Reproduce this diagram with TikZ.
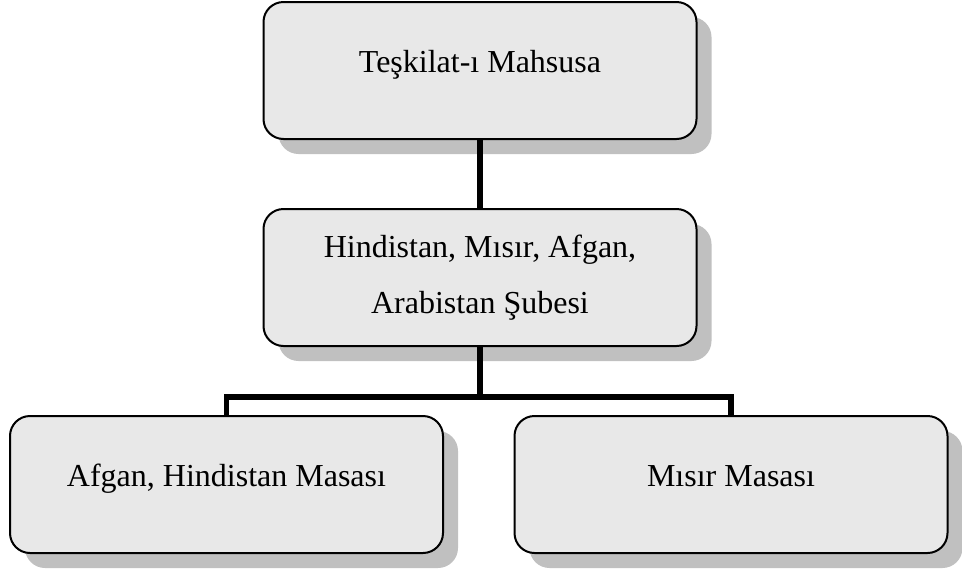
\documentclass[tikz,border=0pt]{standalone}
\usepackage{fontspec}
\setmainfont{Liberation Serif}
\usetikzlibrary{shadows}
\definecolor{boxfill}{RGB}{232,232,232}
\definecolor{shadowgray}{RGB}{192,192,192}
\begin{document}
\begin{tikzpicture}[x=1pt,y=-1pt,
  orgbox/.style={draw=black, line width=2pt, rounded corners=20pt, fill=boxfill,
    minimum width=433pt, minimum height=137pt, inner sep=0pt,
    font=\fontsize{32}{56}\selectfont,
    drop shadow={shadow xshift=15pt, shadow yshift=-15pt, fill=shadowgray, opacity=1}},
  upper/.style={text height=70pt, text depth=67pt},
  link/.style={line width=5.5pt, draw=black}]
\useasboundingbox (0,0) rectangle (962,574);
\node[orgbox, upper] (top) at (480,70.5) {Teşkilat-ı Mahsusa};
\node[orgbox, align=center] (mid) at (480,277.5) {Hindistan, Mısır, Afgan,\\Arabistan Şubesi};
\node[orgbox, upper] (left) at (226.5,484.5) {Afgan, Hindistan Masası};
\node[orgbox, upper] (right) at (731,484.5) {Mısır Masası};
\coordinate (j) at (480,397);
\draw[link] (top.south) -- (mid.north);
\draw[link] (mid.south) -- (j);
\draw[link] (left.north) |- (j) -| (right.north);
\end{tikzpicture}
\end{document}
